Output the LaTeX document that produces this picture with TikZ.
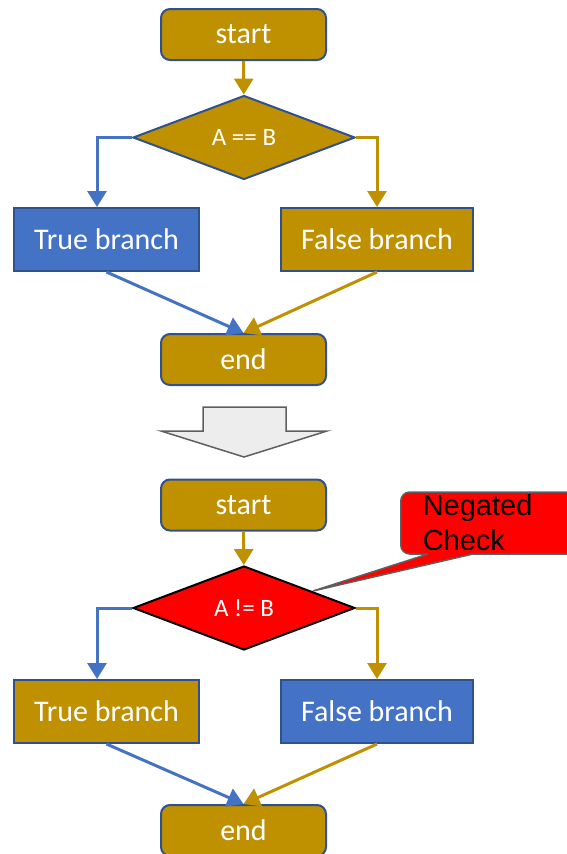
\documentclass[tikz,border=0pt]{standalone}
\usepackage{fontspec}
\setmainfont{Carlito}
\newfontfamily\notefont{Liberation Sans}
\usetikzlibrary{shapes.geometric,arrows.meta}
\definecolor{gold}{HTML}{BF9000}
\definecolor{blu}{HTML}{4472C4}
\definecolor{rim}{HTML}{2F528F}
\definecolor{shade}{HTML}{EDEDED}
\definecolor{dim}{HTML}{5F5F5F}
\begin{document}
\begin{tikzpicture}[x=1pt,y=-1pt]
    \tikzset{box/.style = {draw=rim,line width=2pt,text=white,font=\fontsize{30}{36}\selectfont,minimum height=63,inner sep=0pt}}
    \tikzset{term/.style = {box,fill=gold,rounded corners=9pt,minimum width=165,minimum height=51}}
    \tikzset{cond/.style = {shape=diamond,draw=rim,line width=2pt,text=white,font=\fontsize{25}{30}\selectfont,minimum width=222,minimum height=84,inner sep=0pt,aspect=2.64}}
    \tikzset{edge/.style = {line width=3pt,-{Triangle[width=19pt,length=16pt]}}}
    \tikzset{note/.style = {anchor=west,fill=red,draw=dim,line width=1.5pt,rounded corners=9pt,text width=180pt,align=left,inner xsep=22pt,inner ysep=0pt,minimum height=62,font=\notefont\fontsize{29}{35}\selectfont}}
    \useasboundingbox (0,0) rectangle (567,854);
    % before
    \node[term] (start1) at (243.5,34.5) {start};
    \node[cond,fill=gold] (cond1) at (244,137.5) {A == B};
    \node[box,fill=blu,minimum width=185] (true1) at (106.5,239.5) {True branch};
    \node[box,fill=gold,minimum width=192] (false1) at (377,239.5) {False branch};
    \node[term] (end1) at (243.5,359.5) {end};
    \draw[edge,gold] (start1) -- (cond1);
    \draw[edge,blu] (cond1.west) -| ([xshift=-9.5pt]true1.north);
    \draw[edge,gold] (cond1.east) -| (false1.north);
    \draw[edge,blu] (true1.south) -- (end1.north);
    \draw[edge,gold] (false1.south) -- (end1.north);
    % transform arrow
    \draw[fill=shade,draw=dim,line width=1.5pt] (203,407) -- (286,407) -- (286,431) -- (327,431)
    -- (244,457) -- (161,431) -- (203,431) -- cycle;
    % after
    \node[term] (start2) at (243.5,505) {start};
    \node[cond,fill=red,draw=black] (cond2) at (244,608) {A != B};
    \node[box,fill=gold,minimum width=185] (true2) at (106.5,711.5) {True branch};
    \node[box,fill=blu,minimum width=192] (false2) at (377,711.5) {False branch};
    \node[term] (end2) at (243.5,830.5) {end};
    \draw[edge,gold] (start2) -- (cond2);
    \draw[edge,blu] (cond2.west) -| ([xshift=-9.5pt]true2.north);
    \draw[edge,gold] (cond2.east) -| (false2.north);
    \draw[edge,blu] (true2.south) -- (end2.north);
    \draw[edge,gold] (false2.south) -- (end2.north);
    % callout
    \node[note] (negnote) at (400,523) {Negated\\Check};
    \coordinate (tip) at (313,591);
    \fill[red] (428,554) -- (tip) -- (473,554) -- (473,550) -- (428,550) -- cycle;
    \draw[dim,line width=1.5pt] (428,554) -- (tip) -- (473,554);
\end{tikzpicture}
\end{document}
